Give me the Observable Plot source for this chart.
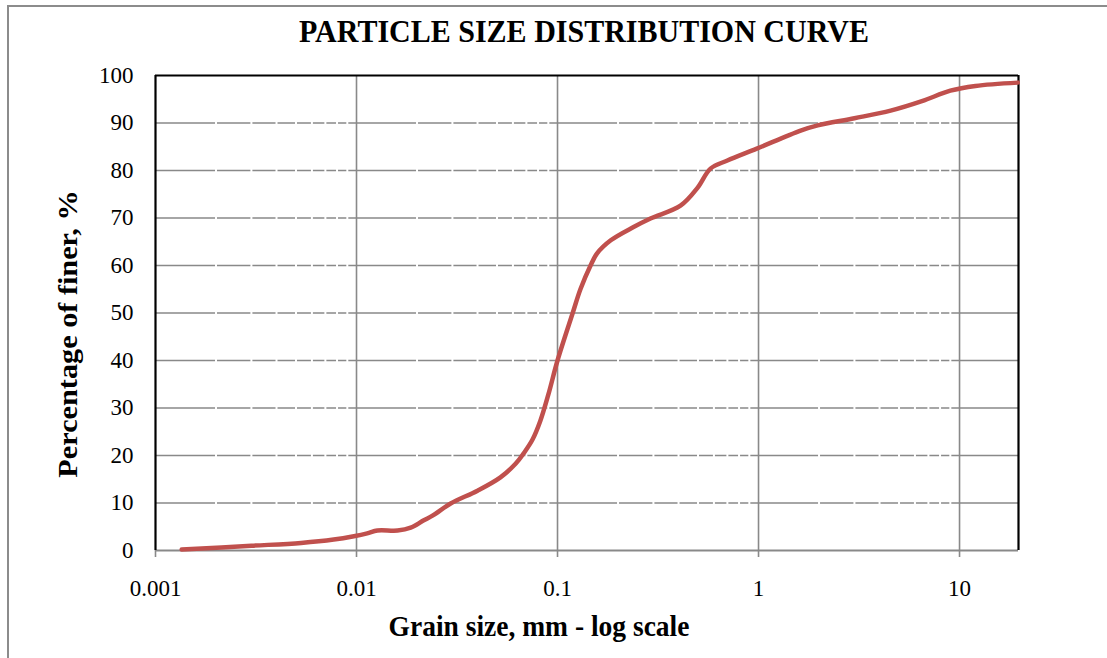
<!DOCTYPE html>
<html>
<head>
<meta charset="utf-8">
<script src="https://cdn.jsdelivr.net/npm/d3@7"></script>
<script src="https://cdn.jsdelivr.net/npm/@observablehq/plot@0.6"></script>
<style>
  html, body { margin: 0; padding: 0; background: #fff; overflow: hidden; }
  #wrap { position: relative; width: 1107px; height: 658px; font-family: "Liberation Serif", "Times New Roman", serif; }
  #border { position: absolute; left: 7px; top: 5px; width: 1200px; height: 800px; border: 2px solid #8c8c8c; box-sizing: border-box; }
  #chart { position: absolute; left: 0; top: 0; }
  #chart svg text { font-family: "Liberation Serif", "Times New Roman", serif; }
  .lbl { position: absolute; font-weight: bold; color: #000; white-space: nowrap; line-height: 1; }
  #title { left: 584px; top: 31px; transform: translate(-50%, -50%) scaleY(1.08); font-size: 30px; }
  #xlabel { left: 539px; top: 626px; transform: translate(-50%, -50%) scaleY(1.08); font-size: 27.5px; }
  #ylabel { left: 68px; top: 334px; transform: translate(-50%, -50%) rotate(-90deg) scaleX(1.1); font-size: 27.5px; }
</style>
</head>
<body>
<div id="wrap">
  <div id="border"></div>
  <div id="chart"></div>
  <div class="lbl" id="title">PARTICLE SIZE DISTRIBUTION CURVE</div>
  <div class="lbl" id="xlabel">Grain size, mm - log scale</div>
  <div class="lbl" id="ylabel">Percentage of finer, %</div>
</div>
<script>
// Grain size (mm) and percentage finer (%)
const grainSize = [0.00135, 0.003, 0.0053, 0.0077, 0.0097, 0.0113, 0.0127, 0.016, 0.0186, 0.0215, 0.024, 0.0294, 0.04, 0.052, 0.062, 0.068, 0.075, 0.082, 0.09, 0.1, 0.119, 0.13, 0.146, 0.157, 0.184, 0.239, 0.29, 0.409, 0.498, 0.577, 0.70, 0.98, 1.62, 1.97, 3.0, 4.54, 6.5, 9.0, 12.0, 19.5];
const percentFiner = [0.2, 1.0, 1.6, 2.3, 3.0, 3.6, 4.2, 4.2, 4.8, 6.3, 7.4, 9.9, 12.6, 15.4, 18.3, 20.5, 23.3, 27.2, 32.8, 40.0, 50.0, 55.0, 60.0, 62.5, 65.3, 68.1, 69.9, 72.6, 76.4, 80.4, 82.1, 84.6, 88.4, 89.5, 91.0, 92.6, 94.6, 96.8, 97.8, 98.5];

const xTicks = [0.001, 0.01, 0.1, 1, 10];
const xTickLabels = ["0.001", "0.01", "0.1", "1", "10"];
const yTicks = [0, 10, 20, 30, 40, 50, 60, 70, 80, 90, 100];
const yGrid = [10, 20, 30, 40, 50, 60, 70, 80, 90];
const xDomain = [0.001, 19.65];
const yDomain = [0, 100];

const data = grainSize.map((d, i) => ({d, p: percentFiner[i]}));
const xLabelOf = d => {
  const i = xTicks.findIndex(t => Math.abs(Math.log10(t) - Math.log10(d)) < 1e-6);
  return i >= 0 ? xTickLabels[i] : "";
};

// minor log positions (white breaks across the horizontal gridlines)
const minor = [];
for (let e = -3; e <= 1; e++) for (let k = 2; k <= 9; k++) {
  const v = k * Math.pow(10, e);
  if (v < xDomain[1]) minor.push(v);
}

const grid = "#898989";
const font = "'Liberation Serif', 'Times New Roman', serif";

const plot = Plot.plot({
  width: 1107,
  height: 658,
  marginLeft: 155,
  marginRight: 89,
  marginTop: 75,
  marginBottom: 108,
  style: {fontFamily: font, fontSize: "23px", color: "#000", background: "transparent"},
  x: {type: "log", domain: xDomain, range: [155, 1018]},
  y: {domain: yDomain, range: [550, 75]},
  marks: [
    Plot.ruleY(yGrid, {stroke: grid, strokeWidth: 1.6}),
    Plot.ruleX(minor, {y1: 4, y2: 96, stroke: "#fff", strokeWidth: 2}),
    Plot.ruleX(xTicks.slice(1), {stroke: grid, strokeWidth: 1.6}),
    Plot.ruleY([0], {stroke: grid, strokeWidth: 2.2}),
    Plot.axisX({ticks: xTicks, tickFormat: xLabelOf, tickSize: 7, tickPadding: 22, stroke: grid, strokeWidth: 1.6, label: null, fontSize: 23, fill: "#000", fontFamily: font}),
    Plot.axisY({ticks: yTicks, tickFormat: d => String(d), tickSize: 0, tickPadding: 22, label: null, fontSize: 23, fill: "#000", fontFamily: font}),
    Plot.ruleY([100], {stroke: "#000", strokeWidth: 2}),
    Plot.ruleX([xDomain[0]], {stroke: "#000", strokeWidth: 2.2}),
    Plot.ruleX([xDomain[1]], {stroke: "#000", strokeWidth: 2.2}),
    Plot.line(data, {x: "d", y: "p", stroke: "#C0504D", strokeWidth: 4.5, curve: "catmull-rom", strokeLinecap: "round"})
  ]
});
document.getElementById("chart").appendChild(plot);
</script>
</body>
</html>
